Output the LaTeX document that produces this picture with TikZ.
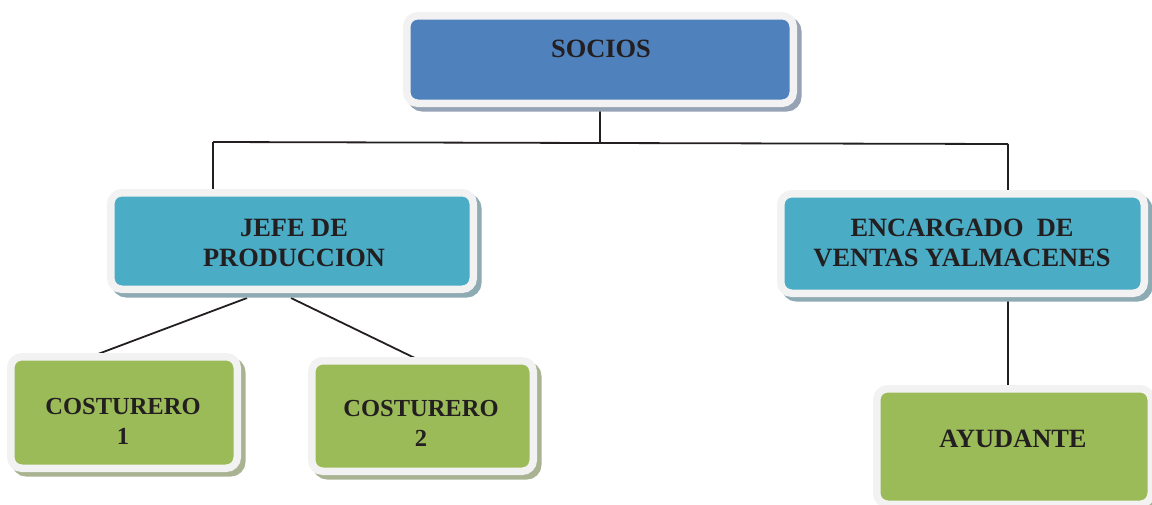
\documentclass[tikz,border=0pt]{standalone}
\usepackage{fontspec}
\setmainfont{Liberation Serif}
\usetikzlibrary{backgrounds,calc}
\definecolor{frameC}{HTML}{F2F2F2}
\definecolor{blueC}{HTML}{4F81BD}
\definecolor{cyanC}{HTML}{4BACC6}
\definecolor{greenC}{HTML}{9BBB59}
\definecolor{shBlue}{HTML}{95A3B5}
\definecolor{shCyan}{HTML}{8EABB4}
\definecolor{shGreen}{HTML}{A9B391}
\definecolor{ink}{HTML}{231F20}
\tikzset{
  orgbox/.style 2 args={draw=frameC, line width=7.5pt, rounded corners=11pt, fill=#1, inner sep=0pt,
    preaction={draw=#2, fill=#2, line width=7.5pt, transform canvas={shift={(4.5pt,-4.5pt)}}}},
  lbl/.style={font=\bfseries\fontsize{26.4}{30}\selectfont, text=ink, align=center, inner sep=0pt},
  lblsmall/.style={lbl, font=\bfseries\fontsize{24.5}{30}\selectfont},
  conn/.style={draw=ink, line width=1.8pt},
}
\begin{document}
\begin{tikzpicture}[x=1pt,y=-1pt]
\clip (0,0) rectangle (1152,504);
% boxes
\node[orgbox={blueC}{shBlue}, minimum width=386.5pt, minimum height=87.5pt] (socios) at (600,59.5) {};
\node[orgbox={cyanC}{shCyan}, minimum width=362.5pt, minimum height=96.5pt] (jefe) at (292,241) {};
\node[orgbox={cyanC}{shCyan}, minimum width=363.5pt, minimum height=99.5pt] (enc) at (962.5,243.5) {};
\node[orgbox={greenC}{shGreen}, minimum width=226.5pt, minimum height=111.5pt] (cos1) at (124,412.5) {};
\node[orgbox={greenC}{shGreen}, minimum width=221.5pt, minimum height=110.5pt] (cos2) at (422.5,416) {};
\node[orgbox={greenC}{shGreen}, minimum width=274.5pt, minimum height=115.5pt] (ayu) at (1014,446.5) {};
% labels
\node[lbl] (sociosT) at (601,49) {SOCIOS};
\node[lbl] (jefeT) at (294,243) {JEFE DE\\PRODUCCION};
\node[lbl] (encT) at (962,243) {ENCARGADO~~DE\\VENTAS YALMACENES};
\node[lblsmall] (cos1T) at (123,421) {COSTURERO\\1};
\node[lblsmall] (cos2T) at (421,423) {COSTURERO\\2};
\node[lbl] (ayuT) at (1013,439) {AYUDANTE};
% connectors
\coordinate (busL) at (213,142);
\coordinate (busM) at (600,143);
\coordinate (busR) at (1008,144);
\coordinate (ea) at (1008,0);
\coordinate (j1) at (247,298);
\coordinate (c1) at (90,357);
\coordinate (j2) at (291,298);
\coordinate (c2) at (421,361);
\begin{scope}[on background layer]
\clip (0,0) rectangle (1152,504);
\draw[conn] (socios.south) -- (busM);
\draw[conn] (busL) -- (busM) -- (busR);
\draw[conn] (busL) -- (busL |- jefe.north);
\draw[conn] (busR) -- (busR |- enc.north);
\draw[conn] (ea |- enc.south) -- (ea |- ayu.north);
\draw[conn] (j1) -- (c1);
\draw[conn] (j2) -- (c2);
\end{scope}
\end{tikzpicture}
\end{document}
